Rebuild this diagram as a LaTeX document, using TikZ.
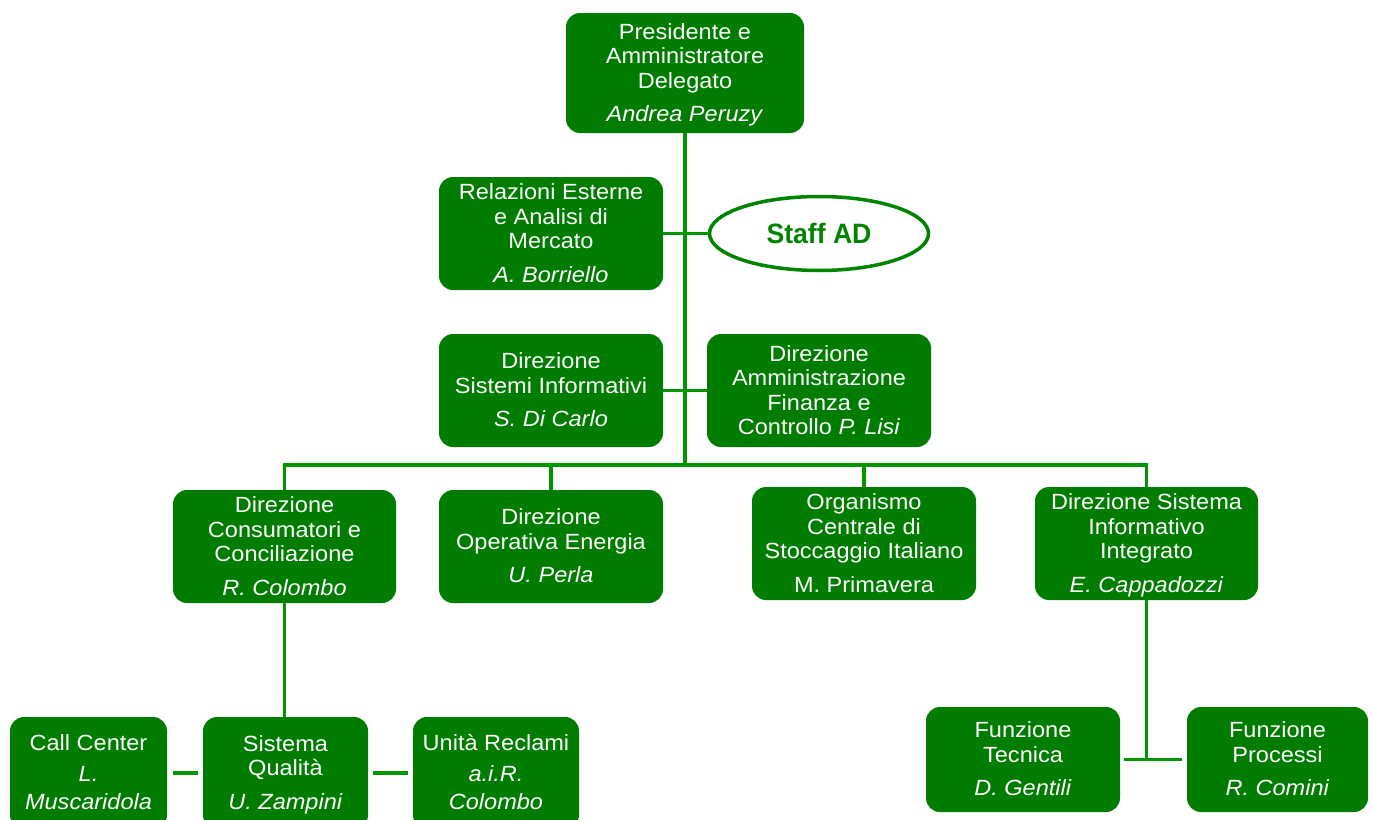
\documentclass[tikz,border=0pt]{standalone}
\usepackage{fontspec}
\setmainfont{Liberation Sans}[FakeStretch=1.07]
\newfontfamily\stafffont{Liberation Sans}[FakeStretch=0.95]
\usetikzlibrary{shapes.geometric}
\definecolor{boxgreen}{RGB}{0,125,0}
\definecolor{linegreen}{RGB}{0,150,0}
\definecolor{staffgreen}{RGB}{0,132,0}
\newcommand{\topst}{\rule{0pt}{19.5pt}}
\newcommand{\botst}{\rule[-4.7pt]{0pt}{4.7pt}}
\tikzset{
  orgbox/.style={rectangle, rounded corners=14pt, fill=boxgreen, draw=none,
    text=white, align=center, inner sep=0pt, outer sep=0pt,
    font=\fontsize{22}{24.5}\selectfont},
  staffbox/.style={ellipse, draw=staffgreen, line width=3.5pt, fill=white,
    text=staffgreen, inner sep=0pt, minimum width=219pt, minimum height=74pt,
    font=\stafffont\bfseries\fontsize{28}{30}\selectfont},
  conn/.style={draw=linegreen, line width=3.6pt}
}
\begin{document}
\begin{tikzpicture}[x=1pt,y=-1pt]
\useasboundingbox (0,0) rectangle (1373,819);
\fill[white] (0,0) rectangle (1373,819);
\clip (0,0) rectangle (1373,819);

% boxes
\node[orgbox, minimum width=238pt, minimum height=120pt] (pres) at (685,73)
  {\topst Presidente e\\Amministratore\\Delegato\\[8.5pt]\textit{Andrea Peruzy}\botst};
\node[orgbox, minimum width=224pt, minimum height=113pt] (rel) at (551,233.5)
  {\topst Relazioni Esterne\\e Analisi di\\Mercato\\[9pt]\textit{A. Borriello}\botst};
\node[staffbox] (staff) at (819,233.5) {Staff AD};
\node[orgbox, minimum width=224pt, minimum height=113pt] (sis) at (551,390.5)
  {\topst Direzione\\Sistemi Informativi\\[9pt]\textit{S. Di Carlo}\botst};
\node[orgbox, minimum width=224pt, minimum height=113pt] (amm) at (819,390.5)
  {\topst Direzione\\Amministrazione\\Finanza e\\Controllo \textit{P. Lisi}\botst};
\node[orgbox, minimum width=223pt, minimum height=113pt] (cons) at (284.5,546.5)
  {\topst Direzione\\Consumatori e\\Conciliazione\\[9pt]\textit{R. Colombo}\botst};
\node[orgbox, minimum width=224pt, minimum height=113pt] (oper) at (551,546.5)
  {\topst Direzione\\Operativa Energia\\[9pt]\textit{U. Perla}\botst};
\node[orgbox, minimum width=224pt, minimum height=113pt] (org) at (864,543.5)
  {\topst Organismo\\Centrale di\\Stoccaggio Italiano\\[9pt]M. Primavera\botst};
\node[orgbox, minimum width=223pt, minimum height=113pt] (dsi) at (1146.5,543.5)
  {\topst Direzione Sistema\\Informativo\\Integrato\\[9pt]\textit{E. Cappadozzi}\botst};
\node[orgbox, minimum width=157pt, minimum height=112pt] (call) at (88.5,773)
  {\topst Call Center\\[6pt]\textit{L.}\\[4pt]\textit{Muscaridola}\botst};
\node[orgbox, minimum width=165pt, minimum height=112pt] (qual) at (285.5,773)
  {\topst Sistema\\Qualità\\[9pt]\textit{U. Zampini}\botst};
\node[orgbox, minimum width=166pt, minimum height=112pt] (recl) at (496,773)
  {\topst Unità Reclami\\[6pt]\textit{a.i.R.}\\[4pt]\textit{Colombo}\botst};
\node[orgbox, minimum width=194pt, minimum height=105pt] (tec) at (1023,759.5)
  {\topst Funzione\\Tecnica\\[9pt]\textit{D. Gentili}\botst};
\node[orgbox, minimum width=181pt, minimum height=105pt] (proc) at (1277.5,759.5)
  {\topst Funzione\\Processi\\[9pt]\textit{R. Comini}\botst};

% junctions
\coordinate (busJ) at (685,465);
\coordinate (tJ) at (1146.5,759.5);

% connectors
\draw[conn] (pres.south) -- (busJ);
\draw[conn] (rel.east) -- (staff.west);
\draw[conn] (sis.east) -- (amm.west);
\draw[conn] (busJ) -| (cons.north);
\draw[conn] (busJ) -| (oper.north);
\draw[conn] (busJ) -| (org.north);
\draw[conn] (busJ) -| (dsi.north);
\draw[conn] (cons.south) -- (cons.south |- qual.north);
\draw[conn] ([xshift=6pt]call.east) -- ([xshift=-5pt]qual.west);
\draw[conn] ([xshift=5pt]qual.east) -- ([xshift=-5pt]recl.west);
\draw[conn] (dsi.south) -- (tJ);
\draw[conn] ([xshift=4pt]tec.east) -- ([xshift=-5pt]proc.west);
\end{tikzpicture}
\end{document}
